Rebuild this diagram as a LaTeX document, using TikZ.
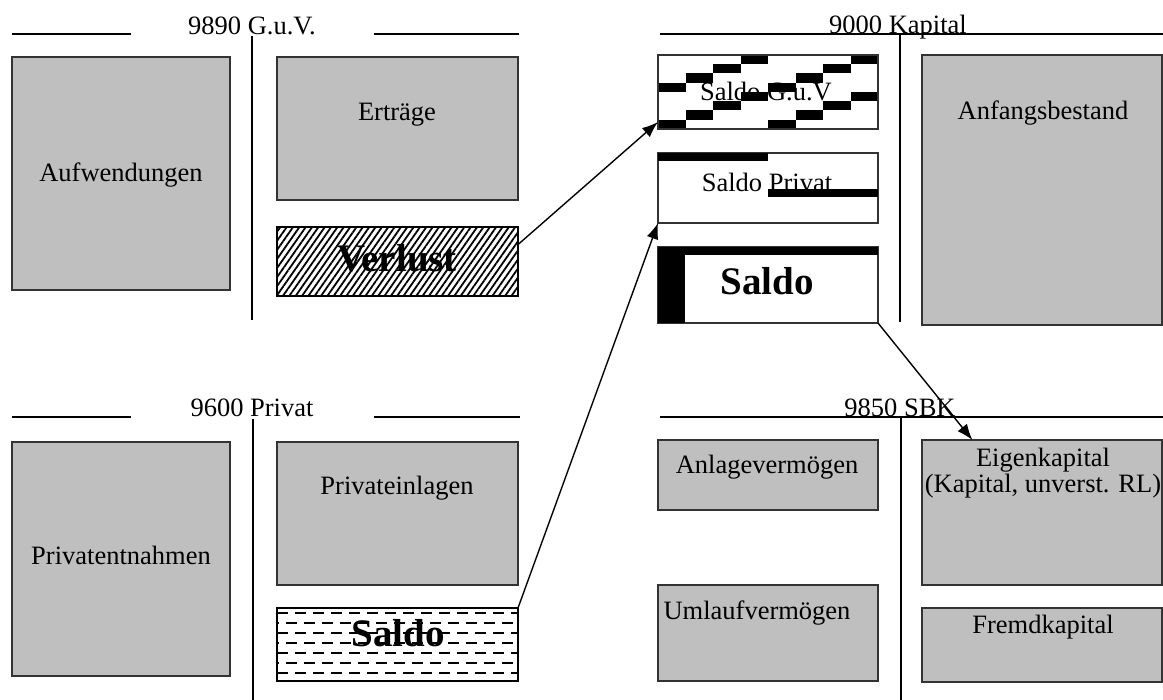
\documentclass[tikz,border=0pt]{standalone}
\usepackage{fontspec}
\setmainfont{Liberation Serif}
\usetikzlibrary{calc,patterns.meta,arrows.meta}

\begin{document}
\begin{tikzpicture}[x=0.5pt,y=-0.5pt,every node/.style={outer sep=0pt,inner sep=0pt}]

	\tikzstyle{konto}=[draw=black!80,line width=0.7pt,fill=black!25,anchor=north west]
	\tikzstyle{leer}=[draw=black!80,line width=0.7pt,fill=white,anchor=north west]
	\tikzstyle{tline}=[line width=1pt]
	\tikzstyle{txt}=[font=\fontsize{13.25}{13}\selectfont]
	\tikzstyle{fett}=[font=\fontsize{19.5}{22}\selectfont\bfseries]
	\tikzstyle{pfeil}=[line width=0.7pt,-{Latex[length=8pt,width=6pt]}]

	\useasboundingbox (0,0) rectangle (1163,700);

	% 9890 G.u.V.
	\draw [tline] (12,34) -- (131,34);
	\draw [tline] (374,34) -- (519,34);
	\draw [tline] (252,36) -- (252,320);
	\node (tguv) at (252,35) [txt,anchor=base] {9890 G.u.V.};

	\node (aufw) at (12,57) [konto,minimum width=109pt,minimum height=116.5pt] {};
	\node (aufwtxt) at (121,175) [txt] {Aufwendungen};
	\node (ertr) at (277,57) [konto,minimum width=120.5pt,minimum height=71.5pt] {};
	\node (ertrtxt) at (397,115) [txt] {Erträge};
	\node (verl) at (277,227) [anchor=north west,minimum width=120.5pt,minimum height=34.5pt,draw,line width=1.2pt,pattern={Lines[angle=55,distance=2.6pt,line width=0.9pt]}] {};
	\node (verltxt) at (397,258) [fett] {Verlust};

	% 9000 Kapital
	\draw [tline] (660,34) -- (1163,34);
	\draw [tline] (900,34) -- (900,322);
	\node (tkap) at (898,34) [txt,anchor=base] {9000 Kapital};

	\node (guv) at (658,55) [leer,minimum width=110pt,minimum height=37pt] {};
	\foreach \r in {0,...,7}
		\foreach \k in {0,1}{
			\pgfmathsetmacro\c{mod(11-\r,4)+4*\k}
			\fill ($(guv.north west)+(\c*27.5,\r*9.25)$) rectangle ++(27.5,9.25);
		}
	\draw [draw=black!80,line width=0.7pt] (guv.north west) rectangle (guv.south east);
	\node (guvtxt) at (766,92) [txt] {Saldo G.u.V};

	\node (priv) at (658,153) [leer,minimum width=110pt,minimum height=35pt] {};
	\fill (priv.north west) rectangle ++(110,8);
	\fill ($(priv.north west)+(110,36)$) rectangle ++(110,8);
	\node (privtxt) at (767,182) [txt] {Saldo Privat};

	\node (ksaldo) at (658,247) [leer,minimum width=110pt,minimum height=38pt] {};
	\fill (ksaldo.north west) rectangle ++(220,8);
	\fill (ksaldo.north west) rectangle ++(27,76);
	\node (ksaldotxt) at (767,281) [fett] {Saldo};

	\node (anf) at (922,55) [konto,minimum width=120pt,minimum height=135pt] {};
	\node (anftxt) at (1043,113) [txt] {Anfangsbestand};

	% 9600 Privat
	\draw [tline] (12,417) -- (131,417);
	\draw [tline] (374,417) -- (520,417);
	\draw [tline] (253,419) -- (253,700);
	\node (tpriv) at (252,416) [txt,anchor=base] {9600 Privat};

	\node (pentn) at (12,442) [konto,minimum width=109pt,minimum height=117pt] {};
	\node (pentntxt) at (121,555) [txt] {Privatentnahmen};
	\node (peinl) at (277,442) [konto,minimum width=120.5pt,minimum height=71.5pt] {};
	\node (peinltxt) at (397,488) [txt] {Privateinlagen};
	\node (psaldo) at (277,608) [anchor=north west,minimum width=120.5pt,minimum height=36.5pt] {};
	\begin{scope}
		\clip (psaldo.north west) rectangle (psaldo.south east);
		\foreach \i [evaluate=\i as \ph using {mod(\i,2)*4.5}] in {0,...,6}
			\draw [line width=1.3pt,dash pattern=on 5.5pt off 3.5pt,dash phase=\ph pt] ($(psaldo.north west)+(0,5+\i*10)$) -- ++(241,0);
	\end{scope}
	\draw [line width=1.2pt] (psaldo.north west) rectangle (psaldo.south east);
	\node (psaldotxt) at (398,633) [fett] {Saldo};

	% 9850 SBK
	\draw [tline] (660,417) -- (1163,417);
	\draw [tline] (901,417) -- (901,700);
	\node (tsbk) at (900,416) [txt,anchor=base] {9850 SBK};

	\node (anl) at (658,440) [konto,minimum width=110pt,minimum height=35pt] {};
	\node (anltxt) at (767,467) [txt] {Anlagevermögen};
	\node (uml) at (658,585) [konto,minimum width=110pt,minimum height=48pt] {};
	\node (umltxt) at (757,613) [txt] {Umlaufvermögen};
	\node (eigen) at (922,440) [konto,minimum width=120pt,minimum height=72.5pt] {};
	\node (eigentxt) at (1043,473) [txt,align=center] {Eigenkapital\\(Kapital, unverst. RL)};
	\node (fremd) at (922,608) [konto,minimum width=120pt,minimum height=37pt] {};
	\node (fremdtxt) at (1043,627) [txt] {Fremdkapital};

	% Abschluss
	\draw [pfeil] (verl.8) -- ([yshift=3.5pt]guv.south west);
	\draw [pfeil] (psaldo.north east) -- (priv.south west);
	\draw [pfeil] (ksaldo.south east) -- ($(eigen.north west)!0.21!(eigen.north east)$);

\end{tikzpicture}
\end{document}
